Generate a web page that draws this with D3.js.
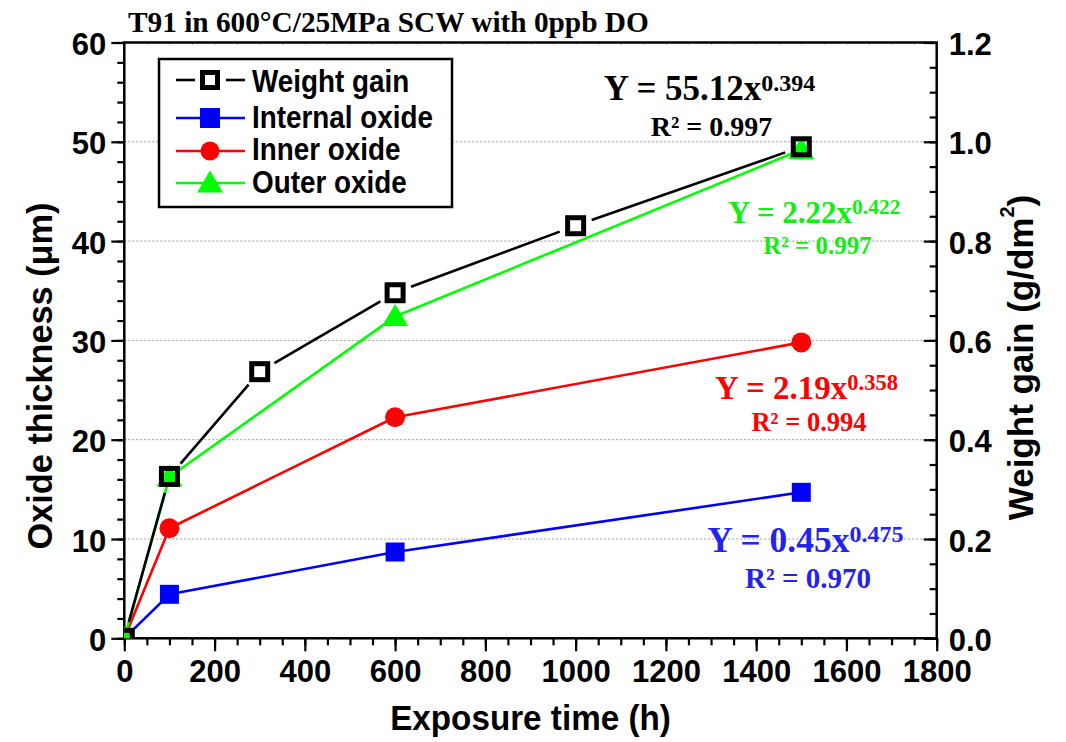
<!DOCTYPE html>
<html><head><meta charset="utf-8">
<script src="https://cdn.jsdelivr.net/npm/d3@7"></script>
<style>body{margin:0;background:#fff}svg{display:block}</style>
</head><body>
<svg id="c" width="1066" height="742"></svg>
<script>
// ---------------- data ----------------
const chartTitle = "T91 in 600°C/25MPa SCW with 0ppb DO";
const wgTimes = [0, 100, 300, 600, 1000, 1500];
const weightGain = [0, 0.326, 0.537, 0.696, 0.831, 0.990];   // g/dm2 (right axis)
const oxTimes = [0, 100, 600, 1500];
const internalOxide = [0, 4.43, 8.69, 14.70];                 // µm
const innerOxide = [0, 11.08, 22.26, 29.80];
const outerOxide = [0, 16.25, 32.40, 49.20];
const xTicks = [0, 200, 400, 600, 800, 1000, 1200, 1400, 1600, 1800];
const yTicks = [0, 10, 20, 30, 40, 50, 60];
const y2Ticks = [0, 0.2, 0.4, 0.6, 0.8, 1.0, 1.2];
const legendLabels = ["Weight gain", "Internal oxide", "Inner oxide", "Outer oxide"];
const fitMain = ["Y = 55.12x", "Y = 2.22x", "Y = 2.19x", "Y = 0.45x"];
const fitExp = ["0.394", "0.422", "0.358", "0.475"];
const fitR2 = ["R² = 0.997", "R² = 0.997", "R² = 0.994", "R² = 0.970"];
const xLabel = "Exposure time (h)";
const yLabel = "Oxide thickness (μm)";
const y2Label = "Weight gain (g/dm";

// ---------------- layout / style ----------------
const SANS = "'Liberation Sans', Arial, Helvetica, sans-serif";
const SERIF = "'Liberation Serif', 'Times New Roman', Times, serif";
const BLUE = "#0000ff", RED = "#ff0000", GREEN = "#00ff00";
const m = {l: 124.3, r: 936.7, t: 42.5, b: 638.3};
const svg = d3.select("#c");
const x = d3.scaleLinear().domain([0, 1800]).range([m.l, m.r]);
const y = d3.scaleLinear().domain([0, 60]).range([m.b, m.t]);
const y2 = d3.scaleLinear().domain([0, 1.2]).range([m.b, m.t]);

svg.append("rect").attr("width", 1066).attr("height", 742).attr("fill", "#fff");
svg.append("clipPath").attr("id", "clip").append("rect")
  .attr("x", m.l).attr("y", m.t).attr("width", m.r - m.l).attr("height", m.b - m.t);

// grid lines
svg.append("g").selectAll("line").data(yTicks.filter(v => v > 0 && v < 60)).join("line")
  .attr("x1", m.l).attr("x2", m.r).attr("y1", d => y(d)).attr("y2", d => y(d))
  .attr("stroke", "#9a9a9a").attr("stroke-width", 1).attr("stroke-dasharray", "2,2");

// ---------------- axes ----------------
function styleAxis(g, sx, dy) {
  g.select(".domain").remove();
  g.attr("font-family", SANS).attr("font-size", 32).attr("font-weight", "bold");
  g.selectAll(".tick line").attr("stroke", "#000").attr("stroke-width", 2.2);
  g.selectAll(".tick text").each(function () {
    const t = d3.select(this);
    const tx = +t.attr("x") || 0, ty = +t.attr("y") || 0;
    t.attr("x", 0).attr("y", 0).attr("transform", `translate(${tx},${ty}) scale(${sx},1)`);
    if (dy) t.attr("dy", dy);
  });
}
const xMinor = d3.range(0, 1801, 50);
const yMinor = d3.range(0, 61, 2);
const y2Minor = d3.range(0, 1.2001, 0.05);

svg.append("g").attr("transform", `translate(0,${m.b})`)
  .call(d3.axisBottom(x).tickValues(xMinor).tickSize(7).tickFormat("")).call(g => styleAxis(g, 1));
svg.append("g").attr("transform", `translate(0,${m.b})`)
  .call(d3.axisBottom(x).tickValues(xTicks).tickSize(13).tickPadding(8).tickFormat(d3.format("d")))
  .call(g => styleAxis(g, 0.97));

svg.append("g").attr("transform", `translate(${m.l},0)`)
  .call(d3.axisLeft(y).tickValues(yMinor).tickSize(7).tickFormat("")).call(g => styleAxis(g, 1));
svg.append("g").attr("transform", `translate(${m.l},0)`)
  .call(d3.axisLeft(y).tickValues(yTicks).tickSize(13).tickPadding(5).tickFormat(d3.format("d")))
  .call(g => styleAxis(g, 0.97, "0.38em"));

svg.append("g").attr("transform", `translate(${m.r},0)`)
  .call(d3.axisRight(y2).tickValues(y2Minor).tickSizeInner(-7).tickSizeOuter(0).tickFormat("")).call(g => styleAxis(g, 1));
svg.append("g").attr("transform", `translate(${m.r},0)`)
  .call(d3.axisRight(y2).tickValues(y2Ticks).tickSizeInner(-13).tickSizeOuter(0).tickPadding(12).tickFormat(d3.format(".1f")))
  .call(g => styleAxis(g, 0.97, "0.38em"));

svg.append("g").attr("transform", `translate(0,${m.t})`)
  .call(d3.axisTop(x).tickValues(xMinor).tickSizeInner(-2).tickSizeOuter(0).tickFormat("")).call(g => styleAxis(g, 1))
  .selectAll(".tick line").attr("stroke", "#888").attr("stroke-width", 1);

// frame
svg.append("rect").attr("x", m.l).attr("y", m.t).attr("width", m.r - m.l).attr("height", m.b - m.t)
  .attr("fill", "none").attr("stroke", "#000").attr("stroke-width", 2.5);

// ---------------- series ----------------
const plot = svg.append("g").attr("clip-path", "url(#clip)");
const lineGen = d3.line();
const triPath = "M0,-12.5L13,9.5L-13,9.5Z";

function drawLine(xs, vs, scale, color) {
  plot.append("path").attr("d", lineGen(xs.map((t, i) => [x(t), scale(vs[i])])))
    .attr("fill", "none").attr("stroke", color).attr("stroke-width", 2.6).attr("stroke-linejoin", "round");
}
// internal oxide (blue squares)
drawLine(oxTimes, internalOxide, y, BLUE);
plot.append("g").selectAll("rect").data(oxTimes).join("rect")
  .attr("x", (d) => x(d) - 9.5).attr("y", (d, i) => y(internalOxide[i]) - 9.5)
  .attr("width", 19).attr("height", 19).attr("fill", BLUE);
// inner oxide (red circles)
drawLine(oxTimes, innerOxide, y, RED);
plot.append("g").selectAll("circle").data(oxTimes).join("circle")
  .attr("cx", d => x(d)).attr("cy", (d, i) => y(innerOxide[i])).attr("r", 10).attr("fill", RED);
// outer oxide (green triangles)
drawLine(oxTimes, outerOxide, y, GREEN);
plot.append("g").selectAll("path").data(oxTimes).join("path")
  .attr("transform", (d, i) => `translate(${x(d)},${y(outerOxide[i])})`).attr("d", triPath).attr("fill", GREEN);
// weight gain (black open squares, line with gaps)
const wgPts = wgTimes.map((t, i) => [x(t), y2(weightGain[i])]);
const gap = 17;
for (let i = 0; i < wgPts.length - 1; i++) {
  const [x0, y0] = wgPts[i], [x1, y1] = wgPts[i + 1];
  const L = Math.hypot(x1 - x0, y1 - y0), ux = (x1 - x0) / L, uy = (y1 - y0) / L;
  plot.append("line").attr("x1", x0 + ux * gap).attr("y1", y0 + uy * gap)
    .attr("x2", x1 - ux * gap).attr("y2", y1 - uy * gap)
    .attr("stroke", "#000").attr("stroke-width", 2.6);
}
plot.append("g").selectAll("rect").data(wgPts).join("rect")
  .attr("x", d => d[0] - 8).attr("y", d => d[1] - 8).attr("width", 16).attr("height", 16)
  .attr("fill", "none").attr("stroke", "#000").attr("stroke-width", 5);

// ---------------- legend ----------------
const lg = svg.append("g");
lg.append("rect").attr("x", 159).attr("y", 59).attr("width", 293).attr("height", 148)
  .attr("fill", "#fff").attr("stroke", "#000").attr("stroke-width", 2.5);
const rowY = [80, 118, 151, 183];
const textY = [91.7, 128.3, 160, 192.7];
const lcol = ["#000", BLUE, RED, GREEN];
legendLabels.forEach((lab, i) => {
  const cy = rowY[i];
  if (i === 0) {
    lg.append("line").attr("x1", 176).attr("x2", 195).attr("y1", cy).attr("y2", cy).attr("stroke", "#000").attr("stroke-width", 2.6);
    lg.append("line").attr("x1", 226).attr("x2", 245).attr("y1", cy).attr("y2", cy).attr("stroke", "#000").attr("stroke-width", 2.6);
    lg.append("rect").attr("x", 202.5).attr("y", cy - 7.5).attr("width", 15).attr("height", 15)
      .attr("fill", "none").attr("stroke", "#000").attr("stroke-width", 5);
  } else {
    lg.append("line").attr("x1", 176).attr("x2", 245).attr("y1", cy).attr("y2", cy).attr("stroke", lcol[i]).attr("stroke-width", 2.6);
    if (i === 1) lg.append("rect").attr("x", 200).attr("y", cy - 10).attr("width", 20).attr("height", 20).attr("fill", BLUE);
    if (i === 2) lg.append("circle").attr("cx", 210).attr("cy", cy).attr("r", 9.5).attr("fill", RED);
    if (i === 3) lg.append("path").attr("transform", `translate(210,${cy})`).attr("d", triPath).attr("fill", GREEN);
  }
  lg.append("text").attr("transform", `translate(252,${textY[i]}) scale(0.87,1)`)
    .attr("font-family", SANS).attr("font-weight", "bold").attr("font-size", 32).attr("fill", "#000").text(lab);
});

// ---------------- fit annotations ----------------
const fitLayout = [
  {cx: 709.5, y: 100, fs: 35, sfs: 24, ry: 136, rcx: 711.5, rfs: 28, tcol: "#000"},
  {cx: 814.2, y: 222.7, fs: 31, sfs: 21.5, ry: 254, rcx: 817.4, rfs: 25, tcol: "#11ee11"},
  {cx: 806.5, y: 399, fs: 33, sfs: 22.5, ry: 431, rcx: 809, rfs: 26.5, tcol: "#ff0000"},
  {cx: 805.4, y: 551.7, fs: 35.5, sfs: 24, ry: 588, rcx: 808, rfs: 29, tcol: "#2323ee"}
];
fitMain.forEach((s, i) => {
  const L = fitLayout[i];
  const t = svg.append("text").attr("x", L.cx).attr("y", L.y).attr("text-anchor", "middle")
    .attr("font-family", SERIF).attr("font-weight", "bold").attr("font-size", L.fs).attr("fill", L.tcol);
  t.append("tspan").text(s);
  t.append("tspan").attr("dy", -L.fs * 0.27).attr("font-size", L.sfs).text(fitExp[i]);
  svg.append("text").attr("x", L.rcx).attr("y", L.ry).attr("text-anchor", "middle")
    .attr("font-family", SERIF).attr("font-weight", "bold").attr("font-size", L.rfs).attr("fill", L.tcol)
    .text(fitR2[i]);
});

// ---------------- titles ----------------
svg.append("text").attr("x", 128).attr("y", 31.7).attr("font-family", SERIF).attr("font-weight", "bold")
  .attr("font-size", 29.3).attr("fill", "#000").text(chartTitle);
svg.append("text").attr("transform", `translate(${(m.l + m.r) / 2},730) scale(0.95,1)`).attr("text-anchor", "middle")
  .attr("font-family", SANS).attr("font-weight", "bold").attr("font-size", 35).text(xLabel);
svg.append("text").attr("transform", `translate(52,376) rotate(-90) scale(0.98,1)`).attr("text-anchor", "middle")
  .attr("font-family", SANS).attr("font-weight", "bold").attr("font-size", 35).text(yLabel);
const rt = svg.append("text").attr("transform", `translate(1033,357.5) rotate(-90)`).attr("text-anchor", "middle")
  .attr("font-family", SANS).attr("font-weight", "bold").attr("font-size", 35);
rt.append("tspan").text(y2Label);
rt.append("tspan").attr("dy", -19).attr("font-size", 20).text("2");
rt.append("tspan").attr("dy", 19).text(")");
</script>
</body></html>
